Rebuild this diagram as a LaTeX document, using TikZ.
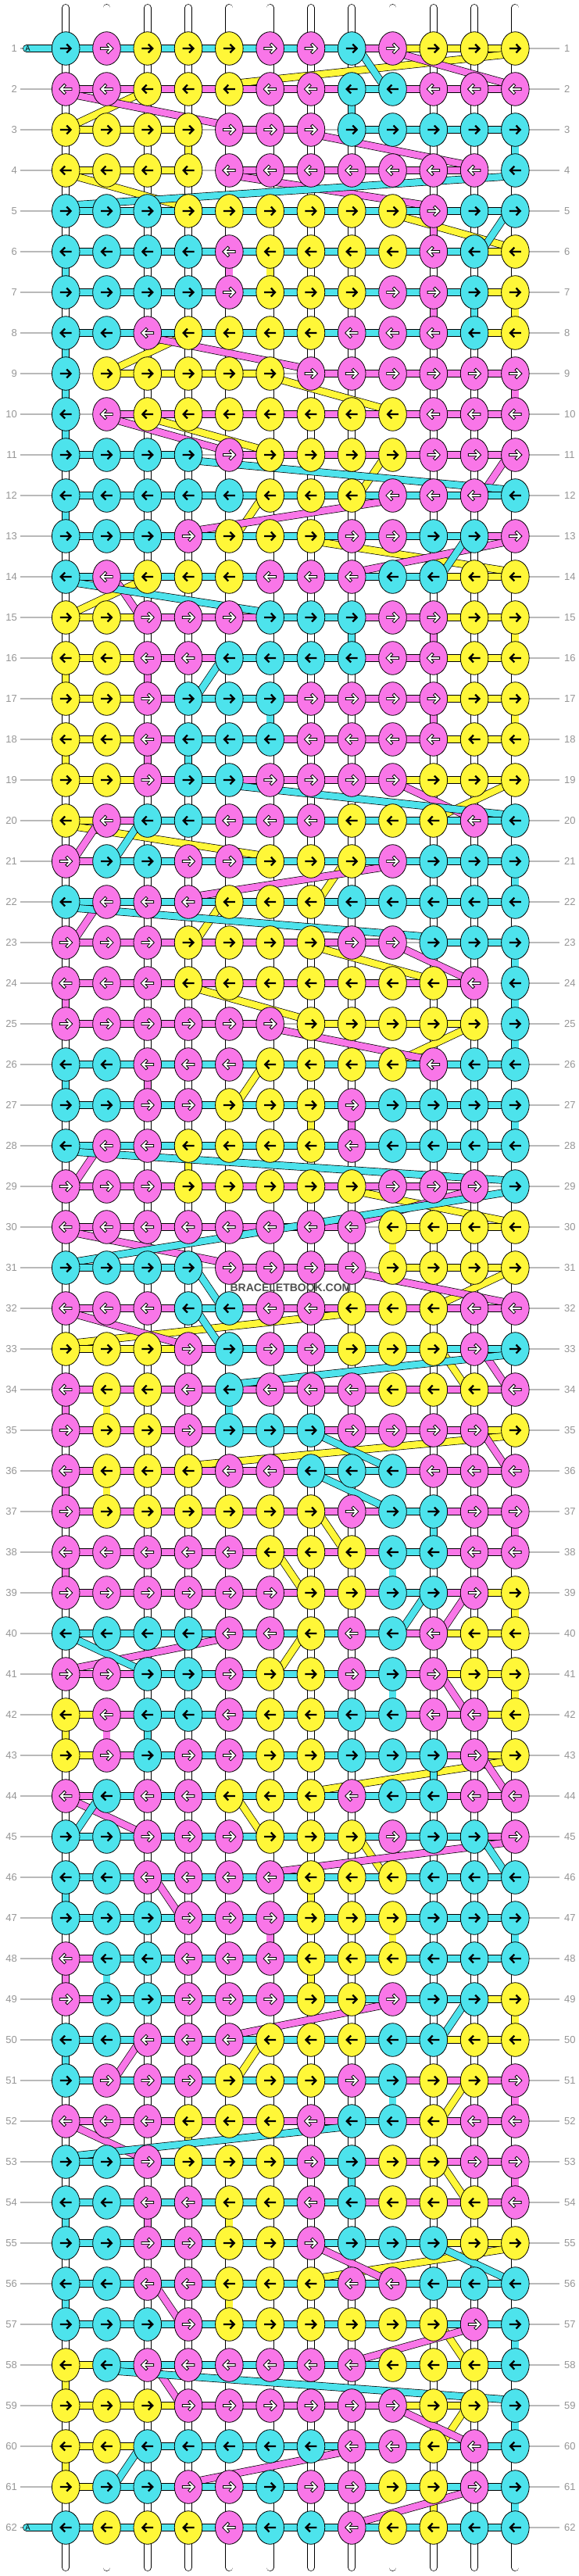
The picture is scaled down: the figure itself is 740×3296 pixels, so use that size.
\documentclass[tikz,border=0pt]{standalone}
\usepackage{fontspec}
\setmainfont{Liberation Sans}
\newfontfamily\monofnt{Liberation Mono}
\usetikzlibrary{shapes.geometric,calc}
\definecolor{kc}{RGB}{77,227,236}
\definecolor{kp}{RGB}{249,118,232}
\definecolor{ky}{RGB}{255,247,56}
\definecolor{lblgray}{RGB}{150,150,150}
\definecolor{linegray}{RGB}{185,185,185}
\definecolor{wmgray}{RGB}{80,80,80}

\def\storerow#1#2{\def\strow{#1}\def\stcol{0}\stloop#2\relax}
\def\stloop#1{\ifx#1\relax\else
  \edef\stcol{\the\numexpr\stcol+1\relax}%
  \expandafter\xdef\csname KN-\strow-\stcol\endcsname{#1}%
  \expandafter\stloop\fi}
\def\knotcol#1#2{\csname KN-#1-#2\endcsname}

\def\rowlist{CPYYYPPCPYYY,PPYYYPPCCPPP,YYYYPPPCCCCC,YYYYPPPPPPPC,CCCYYYYYYPCC,%
CCCCPYYYYPCY,CCCCPYYYPPCY,CCPYYYYPPPCY,CYYYYYPPPPPP,CPYYYYYYYPPP,%
CCCCPYYYYPPP,CCCCCYYYPPPC,CCCPYYYPPCCP,CPYYYPPPCCYY,YYPPPCCCPPYY,%
YYPPCCCCPPYY,YYPCCCPPPPYY,YYPCCCPPPPYY,YYPCCPPPPYYY,YPCCPPPYYYPC,%
PCCPPYYYPCCC,CPPPYYYCCCCC,PPPYYYYPPCCC,PPPYYYYYYYPC,PPPPPPYYYYYC,%
CCPPPYYYYPCC,CCPPYYYPCCCC,CPPYYYYPCCCC,PPPYYYYYPPPC,PPPPPPPPYYYY,%
CCCCPPPPYYYY,PPPCCPPYYYPP,YYYPCPPYYYPC,PYYPCPPPYYYP,PYYPCCCPPPPY,%
PYYYPPCCCPPP,PYYYYYYPCCPP,PPPPPYYYCCPP,PPPPPPYYCCPY,CCCCPPYPCPYY,%
PPCCPYYPCPYY,YPCCPYYCCPPY,YPCPPYYCCCPY,PCPPYYYPCCPP,CCPPPYYYPCCP,%
CCPPPPYYYCCC,CCCPPPYYYCCC,PCCPPPYYYCCC,PCCPPPYYPCCY,CCPPPYYYCCYY,%
CPPPYYYPCYYP,PPPYYYPCCYPP,CCPYYYPCYYPP,CCPPYYPCYYYP,CCPPYYPCCCYY,%
CCPPYYYPPCCC,CCCPYYYYYYPC,YCPPPPPPYYYC,YYYPPPPPPYYC,YYCCCCCPPYPC,%
YCCPPCPPYYPC,CYYYPCCPYYCC}

\tikzset{
  band/.style={draw=black,line width=0.7pt,double=#1,double distance=8.4pt},
  knot/.style={ellipse,draw=black,line width=0.8pt,fill=#1,minimum width=35.6pt,minimum height=42.6pt,inner sep=0pt},
  rowline/.style={draw=linegray,line width=1.2pt},
  lbl/.style={text=lblgray,font=\fontsize{13}{13}\selectfont,inner sep=0pt},
  arrowblack/.style={draw=black,line width=2.3pt,line cap=rect},
  arrowout/.style={draw=black,line width=3.9pt,line cap=rect},
  arrowin/.style={draw=white,line width=2.0pt,line cap=rect}
}

\newcommand\seg[5]{%
  \ifnum#2=#4\relax
    \draw[band=#1] (K#2-#3) -- (K#4-#5);
  \else\ifnum#3=#5\relax
    \draw[band=#1] (K#2-#3) -- (K#4-#5);
  \else
    \ifnum#5>#3\relax\def\sgx{14}\def\ngx{-14}\else\def\sgx{-14}\def\ngx{14}\fi
    \draw[band=#1] ($(K#2-#3)+(\sgx,8)$) -- ($(K#4-#5)+(\ngx,-8)$);
  \fi\fi}

\newcommand\stringpath[2]{%
  \gdef\prevR{0}\gdef\prevC{0}%
  \foreach \r in {1,...,62}{%
    \ifodd\r\relax\def\cols{1,2,3,4,5,6,7,8,9,10,11,12}\else\def\cols{12,11,10,9,8,7,6,5,4,3,2,1}\fi
    \foreach \c in \cols {%
      \edef\kk{\knotcol{\r}{\c}}%
      \if\kk#1\relax
        \ifnum\prevR>0 \seg{#2}{\prevR}{\prevC}{\r}{\c}\fi
        \xdef\prevR{\r}\xdef\prevC{\c}%
      \fi}}}

\begin{document}
\begin{tikzpicture}[x=1pt,y=-1pt]
\useasboundingbox (0,0) rectangle (740,3296);
\fill[white] (0,0) rectangle (740,3296);
\foreach \s [count=\r] in \rowlist {\edef\tmp{\noexpand\storerow{\r}{\s}}\tmp}
% knot positions
\foreach \r in {1,...,62}{\foreach \c in {1,...,12}{
  \coordinate (K\r-\c) at ({84.2+(\c-1)*52.29},{62+(\r-1)*52});
}}
% row guide lines and labels
\foreach \r in {1,...,62}{
  \pgfmathsetmacro\yy{62+(\r-1)*52}
  \coordinate (GL\r) at (26,\yy);
  \coordinate (GR\r) at (716,\yy);
  \draw[rowline] (GL\r) -- (GR\r);
  \node[lbl,anchor=east] (LL\r) at (22,\yy) {\r};
  \node[lbl,anchor=west] (LR\r) at (722,\yy) {\r};
}
% warp strings
\foreach \c in {1,...,12}{
  \coordinate (WT\c) at ({84.2+(\c-1)*52.29},10);
  \coordinate (WB\c) at ({84.2+(\c-1)*52.29},3285);
  \draw[band=white,line cap=round] (WT\c) -- (WB\c);
}
% knotting strings
\stringpath{Y}{ky}
\stringpath{P}{kp}
\stringpath{C}{kc}
% start / end tabs
\coordinate (TA1) at (34,62);
\coordinate (TA62) at (34,3234);
\draw[band=kc,line cap=round] (TA1) -- (K1-1);
\draw[band=kc,line cap=round] (TA62) -- (K62-1);
\node[font=\monofnt\fontsize{10}{10}\selectfont,inner sep=0pt] (A1) at (35.5,62) {A};
\node[font=\monofnt\fontsize{10}{10}\selectfont,inner sep=0pt] (A62) at (35.5,3234) {A};
% knots
\foreach \r in {1,...,62}{\foreach \c in {1,...,12}{
  \edef\kk{\knotcol{\r}{\c}}%
  \if\kk C\def\fc{kc}\else\if\kk P\def\fc{kp}\else\def\fc{ky}\fi\fi
  \node[knot=\fc] (N\r-\c) at (K\r-\c) {};
  \ifodd\r\relax\def\dir{1}\else\def\dir{-1}\fi
  \if\kk P
    \draw[arrowout,shift={(K\r-\c)},xscale=\dir] (-6.3,0) -- (5.8,0) (1.9,-4.6) -- (6.4,0) -- (1.9,4.6);
    \draw[arrowin,shift={(K\r-\c)},xscale=\dir] (-6.3,0) -- (5.8,0) (1.9,-4.6) -- (6.4,0) -- (1.9,4.6);
  \else
    \draw[arrowblack,shift={(K\r-\c)},xscale=\dir] (-6.3,0) -- (5.8,0) (1.9,-4.6) -- (6.4,0) -- (1.9,4.6);
  \fi
}}
% watermark
\node[font=\fontsize{14}{14}\selectfont\bfseries,text=wmgray,inner sep=0pt] (WM) at (372,1648) {BRACELETBOOK.COM};
\end{tikzpicture}
\end{document}
